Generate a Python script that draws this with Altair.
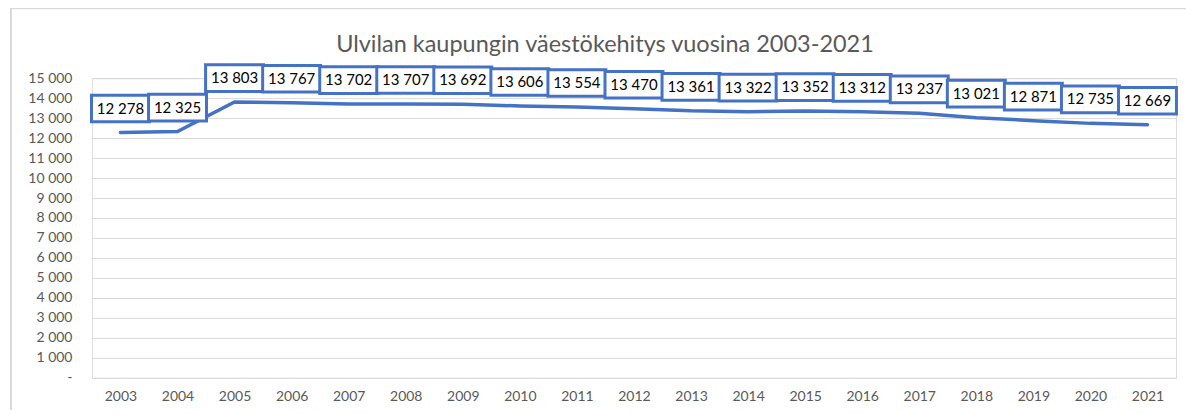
import altair as alt
import pandas as pd

years = [str(y) for y in range(2003, 2022)]
population = [12278, 12325, 13803, 13767, 13702, 13707, 13692, 13606, 13554,
              13470, 13361, 13322, 13352, 13312, 13237, 13021, 12871, 12735, 12669]
labels = [f"{v:,}".replace(",", " ") for v in population]

df = pd.DataFrame({"year": years, "pop": population, "label": labels})

BLUE = "#4472C4"
GRAY = "#595959"
FONT = "Lato"

x = alt.X("year:N", sort=years, title=None,
          scale=alt.Scale(paddingInner=0, paddingOuter=0),
          axis=alt.Axis(labelAngle=0, labelColor=GRAY, labelFontSize=14, labelFont=FONT,
                        ticks=False, domain=False, labelPadding=12, grid=False))
y = alt.Y("pop:Q", title=None,
          scale=alt.Scale(domain=[0, 15000], nice=False),
          axis=alt.Axis(values=list(range(0, 15001, 1000)), labelColor=GRAY,
                        labelFontSize=14, labelFont=FONT, ticks=False, domain=False,
                        labelPadding=20, gridColor="#D9D9D9", gridWidth=1,
                        labelExpr="datum.value == 0 ? '-' : replace(format(datum.value, ','), regexp(',', 'g'), ' ')"))

base = alt.Chart(df)

line = base.mark_line(color=BLUE, strokeWidth=3.5, strokeCap="round").encode(x=x, y=y)

boxes = base.mark_point(
    shape="M-1,-0.46L1,-0.46L1,0.46L-1,0.46Z", size=58 * 58, filled=False,
    fill="white", fillOpacity=1, stroke=BLUE, strokeWidth=3, opacity=1, yOffset=-24
).encode(x=x, y=y)

texts = base.mark_text(font=FONT, fontSize=15, color="#000000", baseline="middle",
                       align="center", dy=-24).encode(x=x, y=y, text="label:N")

# chart frame (decoration)
frame_left = alt.Chart(pd.DataFrame({"k": [0]})).mark_rule(color="#D9D9D9", strokeWidth=2).encode(
    x=alt.value(-81), y=alt.value(-70), y2=alt.value(340))
frame_top = alt.Chart(pd.DataFrame({"k": [0]})).mark_rule(color="#D9D9D9", strokeWidth=2).encode(
    x=alt.value(-82), x2=alt.value(1110), y=alt.value(-70))

chart = alt.layer(frame_left, frame_top, line, boxes, texts).properties(
    width=1085, height=300,
    title=alt.TitleParams("Ulvilan kaupungin väestökehitys vuosina 2003-2021",
                          font=FONT, fontSize=23.5, fontWeight="normal", color=GRAY,
                          anchor="middle", offset=-49, dx=-29),
    padding={"left": 84, "top": 70, "right": 10, "bottom": 32},
    autosize=alt.AutoSizeParams(type="none"),
).configure_view(stroke=None).configure(background="white")

chart.save("out.html", embed_options={"renderer": "svg", "actions": False})
